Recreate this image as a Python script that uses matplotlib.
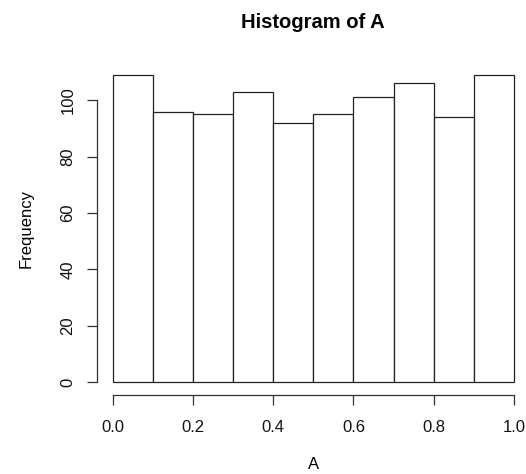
import numpy as np
import matplotlib.pyplot as plt

plt.rcParams['font.family'] = ['Liberation Sans', 'DejaVu Sans']

# histogram of A: bin edges and counts per bin
bin_edges = [0.0, 0.1, 0.2, 0.3, 0.4, 0.5, 0.6, 0.7, 0.8, 0.9, 1.0]
counts = [109, 96, 95, 103, 92, 95, 101, 106, 94, 109]
x_ticks = [0.0, 0.2, 0.4, 0.6, 0.8, 1.0]
x_labels = ['0.0', '0.2', '0.4', '0.6', '0.8', '1.0']
y_ticks = [0, 20, 40, 60, 80, 100]

W, H = 526, 474
fig = plt.figure(figsize=(W / 100, H / 100), dpi=100)
# plot region in pixels (R-style 4% padding on both axes)
left, right, top, bottom = 96.6, 530.0, 62.6, 394.6
ax = fig.add_axes([left / W, (H - bottom) / H, (right - left) / W, (bottom - top) / H])

edges = np.array(bin_edges)
widths = np.diff(edges)
ax.bar(edges[:-1], counts, width=widths, align='edge',
       facecolor='white', edgecolor='#222222', linewidth=0.9)

xr = edges[-1] - edges[0]
ax.set_xlim(edges[0] - 0.04 * xr, edges[-1] + 0.04 * xr)
ymax = max(counts)
ax.set_ylim(-0.04 * ymax, 1.04 * ymax)

for s in ['top', 'right']:
    ax.spines[s].set_visible(False)
ax.spines['left'].set_bounds(y_ticks[0], y_ticks[-1])
ax.spines['bottom'].set_bounds(x_ticks[0], x_ticks[-1])
for s in ['left', 'bottom']:
    ax.spines[s].set_color('#333333')
    ax.spines[s].set_linewidth(0.9)

ax.set_xticks(x_ticks)
ax.set_xticklabels(x_labels)
ax.set_yticks(y_ticks)
ax.tick_params(axis='both', length=7.4, width=0.9, color='#333333',
               labelsize=12, labelcolor='#111111')
ax.tick_params(axis='x', pad=11)
ax.tick_params(axis='y', pad=7.8)
for lab in ax.get_yticklabels():
    lab.set_rotation(90)
    lab.set_va('center')

ax.set_xlabel('A', fontsize=12, labelpad=16)
ax.set_ylabel('Frequency', fontsize=12, labelpad=19.6)
fig.text((left + right) / 2 / W, 1 - 28 / H, 'Histogram of A',
         ha='center', va='baseline', fontsize=14.5, fontweight='bold')

fig.savefig('out.png', dpi=100)
